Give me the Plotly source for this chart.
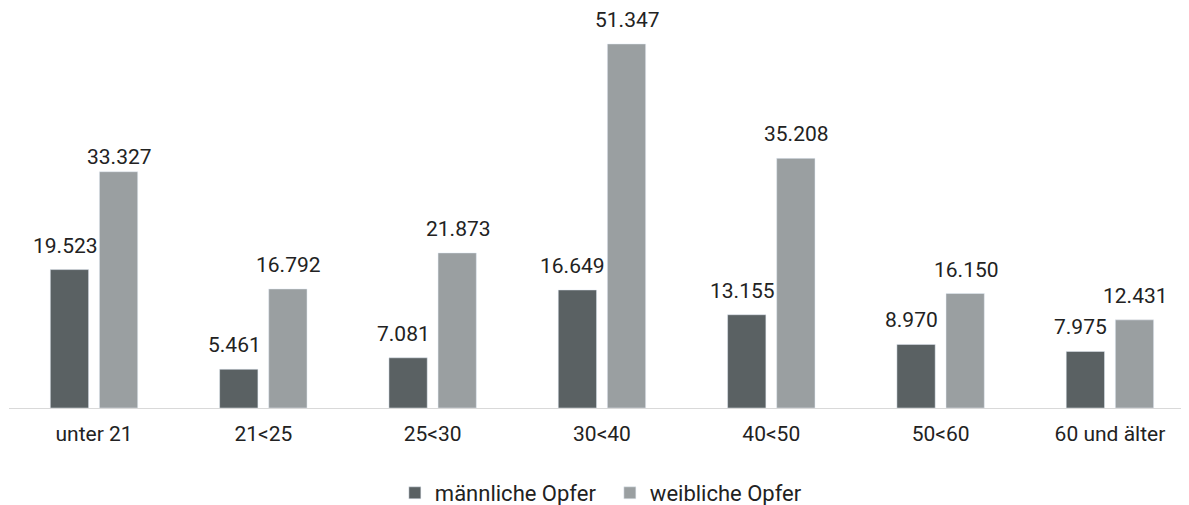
import plotly.graph_objects as go

categories = ["unter 21", "21<25", "25<30", "30<40", "40<50", "50<60", "60 und älter"]
male_values = [19523, 5461, 7081, 16649, 13155, 8970, 7975]
female_values = [33327, 16792, 21873, 51347, 35208, 16150, 12431]
series_names = ["männliche Opfer", "weibliche Opfer"]
colors = ["#5a6163", "#9a9fa1"]

def fmt(v):
    return f"{v:,}".replace(",", ".")

FS = 21
fig = go.Figure()
for name, vals, col in zip(series_names, [male_values, female_values], colors):
    fig.add_trace(go.Bar(x=categories, y=vals, name=name, marker=dict(color=col)))

# value labels above the bars (anchored at data coordinates)
label_xshift = {0: -29, 1: 25.5}
label_yshift_override = {(1, "unter 21"): 1}
for s, vals in enumerate([male_values, female_values]):
    for c, v in zip(categories, vals):
        fig.add_annotation(x=c, y=v, xref="x", yref="y", text=fmt(v),
                           showarrow=False, yanchor="bottom", xanchor="center",
                           xshift=label_xshift[s],
                           yshift=label_yshift_override.get((s, c), 10),
                           font=dict(size=FS, color="#222222"))

# page body adds an 8px offset, so the figure is sized to fit the window
fig.update_layout(
    width=1181, height=497,
    margin=dict(l=1, r=0, t=2, b=97),
    paper_bgcolor="white", plot_bgcolor="white",
    font=dict(family="Roboto, Arial, sans-serif", size=FS, color="#222222"),
    barmode="group", bargap=0.42, bargroupgap=0.22,
    showlegend=True,
    legend=dict(orientation="h", x=0.327, xanchor="left", xref="paper",
                y=0.0241, yanchor="middle", yref="container",
                font=dict(size=22), traceorder="normal", entrywidth=170),
    xaxis=dict(showline=True, linecolor="#d9d9d9", linewidth=1, ticks="",
               showgrid=False, tickfont=dict(size=FS), range=[-0.502, 6.467],
               ticklabelstandoff=7),
    yaxis=dict(visible=False, range=[0, 56135], showgrid=False, zeroline=False),
)

fig.write_html("out.html")
